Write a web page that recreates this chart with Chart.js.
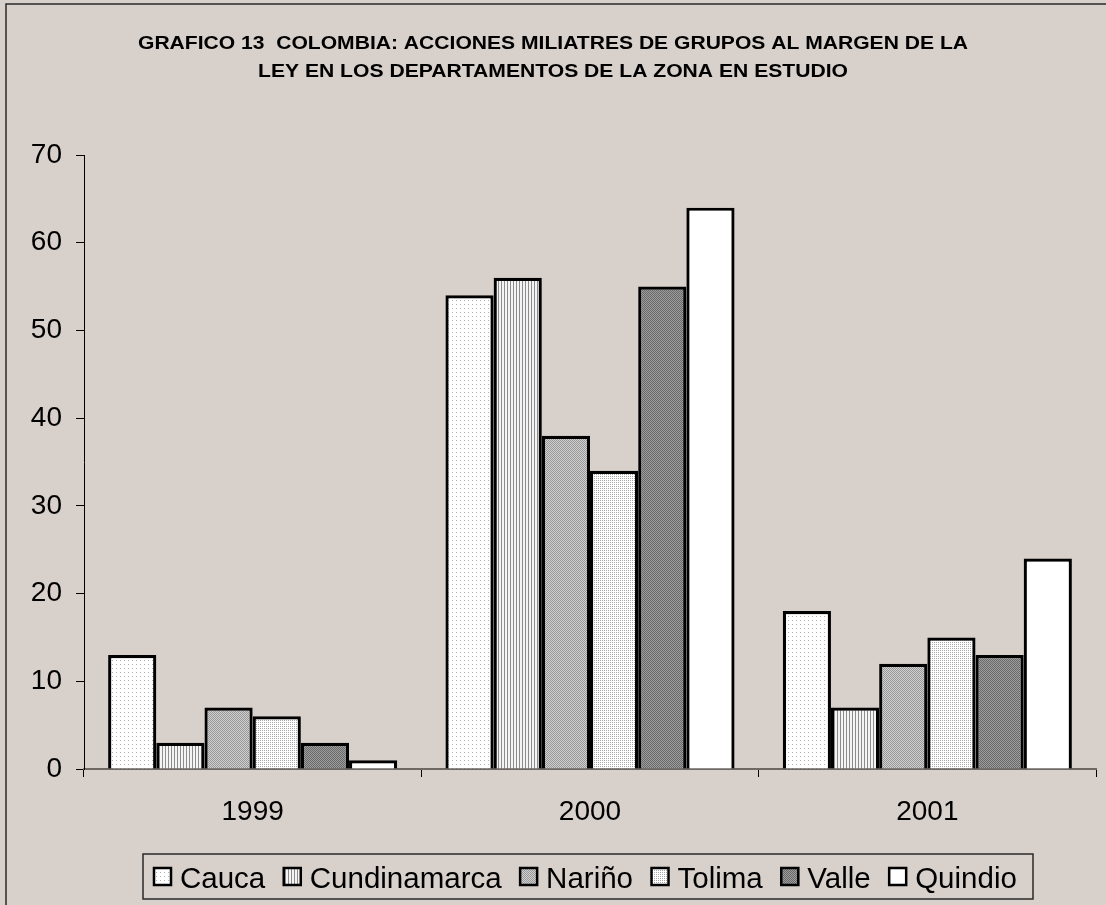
<!DOCTYPE html>
<html>
<head>
<meta charset="utf-8">
<script src="https://cdn.jsdelivr.net/npm/chart.js@4"></script>
<style>
  html, body { margin: 0; padding: 0; background: #d8d0cb; }
  #wrap { width: 1106px; height: 905px; position: relative; }
</style>
</head>
<body>
<div id="wrap"><canvas id="chart" width="1106" height="905"></canvas></div>
<script>
// datos
const years = ['1999', '2000', '2001'];
const cauca = [13, 54, 18];
const cundinamarca = [3, 56, 7];
const narino = [7, 38, 12];
const tolima = [6, 34, 15];
const valle = [3, 55, 13];
const quindio = [1, 64, 24];
const yTicks = [0, 10, 20, 30, 40, 50, 60, 70];
const titleLines = [
  'GRAFICO 13  COLOMBIA: ACCIONES MILIATRES DE GRUPOS AL MARGEN DE LA',
  'LEY EN LOS DEPARTAMENTOS DE LA ZONA EN ESTUDIO'
];

const FONT = "'Liberation Sans', Arial, sans-serif";

// tramas tipo Excel en blanco y negro
function makePattern(size, draw) {
  const c = document.createElement('canvas');
  c.width = size; c.height = size;
  const g = c.getContext('2d');
  draw(g);
  return document.getElementById('chart').getContext('2d').createPattern(c, 'repeat');
}

const patCauca = makePattern(4, g => {
  g.fillStyle = '#ffffff'; g.fillRect(0, 0, 4, 4);
  g.fillStyle = '#b0b0b0'; g.fillRect(0, 0, 1, 1);
});
const patCund = makePattern(3, g => {
  g.fillStyle = '#f4f4f4'; g.fillRect(0, 0, 3, 3);
  g.fillStyle = '#8c8c8c'; g.fillRect(0, 0, 1, 3);
});
const patNarino = makePattern(2, g => {
  g.fillStyle = '#d0d0d0'; g.fillRect(0, 0, 2, 2);
  g.fillStyle = '#989898'; g.fillRect(0, 0, 1, 1); g.fillRect(1, 1, 1, 1);
});
const patTolima = makePattern(2, g => {
  g.fillStyle = '#ffffff'; g.fillRect(0, 0, 2, 2);
  g.fillStyle = '#a8a8a8'; g.fillRect(0, 0, 1, 1);
});
const patValle = makePattern(2, g => {
  g.fillStyle = '#9c9c9c'; g.fillRect(0, 0, 2, 2);
  g.fillStyle = '#6a6a6a'; g.fillRect(0, 0, 1, 1); g.fillRect(1, 1, 1, 1);
});

const series = [
  { label: 'Cauca', data: cauca, fill: patCauca },
  { label: 'Cundinamarca', data: cundinamarca, fill: patCund },
  { label: 'Nariño', data: narino, fill: patNarino },
  { label: 'Tolima', data: tolima, fill: patTolima },
  { label: 'Valle', data: valle, fill: patValle },
  { label: 'Quindio', data: quindio, fill: '#ffffff' }
];

// titulo, marco y leyenda
const decoPlugin = {
  id: 'deco',
  beforeDraw(chart) {
    const ctx = chart.ctx;
    ctx.save();
    ctx.fillStyle = '#d8d0cb';
    ctx.fillRect(0, 0, chart.width, chart.height);
    ctx.strokeStyle = '#2a2a2a';
    ctx.lineWidth = 1.5;
    ctx.beginPath();
    ctx.moveTo(6, chart.height + 2);
    ctx.lineTo(6, 4);
    ctx.lineTo(chart.width + 2, 4);
    ctx.stroke();
    ctx.restore();
  },
  afterDraw(chart) {
    const ctx = chart.ctx;
    ctx.save();
    // titulo
    ctx.fillStyle = '#000';
    ctx.font = 'bold 19px ' + FONT;
    ctx.textBaseline = 'alphabetic';
    ctx.textAlign = 'center';
    const widths = [830, 590];
    const baselines = [48.5, 76.5];
    titleLines.forEach((t, i) => {
      const w = ctx.measureText(t).width;
      ctx.save();
      ctx.translate(553, baselines[i]);
      ctx.scale(widths[i] / w, 1);
      ctx.fillText(t, 0, 0);
      ctx.restore();
    });

    // leyenda
    ctx.font = '29.5px ' + FONT;
    ctx.textAlign = 'left';
    const sw = 19, gapText = 8, gapItem = 17.5;
    const boxL = 143, boxR = 1033, boxT = 854, boxB = 899;
    let x = 153;
    ctx.fillStyle = '#d8d0cb';
    ctx.fillRect(boxL, boxT, boxR - boxL, boxB - boxT);
    ctx.strokeStyle = '#2a2a2a';
    ctx.lineWidth = 1.5;
    ctx.strokeRect(boxL, boxT, boxR - boxL, boxB - boxT);
    series.forEach(s => {
      ctx.fillStyle = s.fill;
      ctx.fillRect(x, 867, sw, sw);
      ctx.strokeStyle = '#000';
      ctx.lineWidth = 2.5;
      ctx.strokeRect(x + 1, 868, sw - 2, sw - 2);
      ctx.fillStyle = '#000';
      ctx.fillText(s.label, x + sw + gapText, 887.5);
      x += sw + gapText + ctx.measureText(s.label).width + gapItem;
    });
    ctx.restore();
  }
};

new Chart(document.getElementById('chart'), {
  type: 'bar',
  data: {
    labels: years,
    datasets: series.map(s => ({
      label: s.label,
      data: s.data,
      backgroundColor: s.fill,
      borderColor: '#000000',
      borderWidth: 3.2,
      borderSkipped: 'bottom',
      categoryPercentage: 0.857,
      barPercentage: 1.0
    }))
  },
  options: {
    responsive: false,
    animation: false,
    layout: { padding: { left: 0, top: 155, right: 10, bottom: 76 } },
    plugins: {
      legend: { display: false },
      title: { display: false },
      tooltip: { enabled: false }
    },
    scales: {
      x: {
        offset: true,
        grid: {
          offset: true,
          drawOnChartArea: false,
          drawTicks: true,
          tickLength: 8,
          color: '#000000'
        },
        border: { display: true, color: '#6e6864', width: 2 },
        ticks: {
          color: '#000000',
          padding: 18,
          font: { family: FONT, size: 28 }
        },
        afterFit(scale) { scale.height = 60; }
      },
      y: {
        min: 0,
        max: 70,
        afterBuildTicks(scale) { scale.ticks = yTicks.map(v => ({ value: v })); },
        grid: {
          drawOnChartArea: false,
          drawTicks: true,
          tickLength: 8,
          color: '#000000'
        },
        border: { display: true, color: '#000000', width: 1 },
        ticks: {
          color: '#000000',
          padding: 14,
          font: { family: FONT, size: 28 }
        },
        afterFit(scale) { scale.width = 84; }
      }
    }
  },
  plugins: [decoPlugin]
});
</script>
</body>
</html>
